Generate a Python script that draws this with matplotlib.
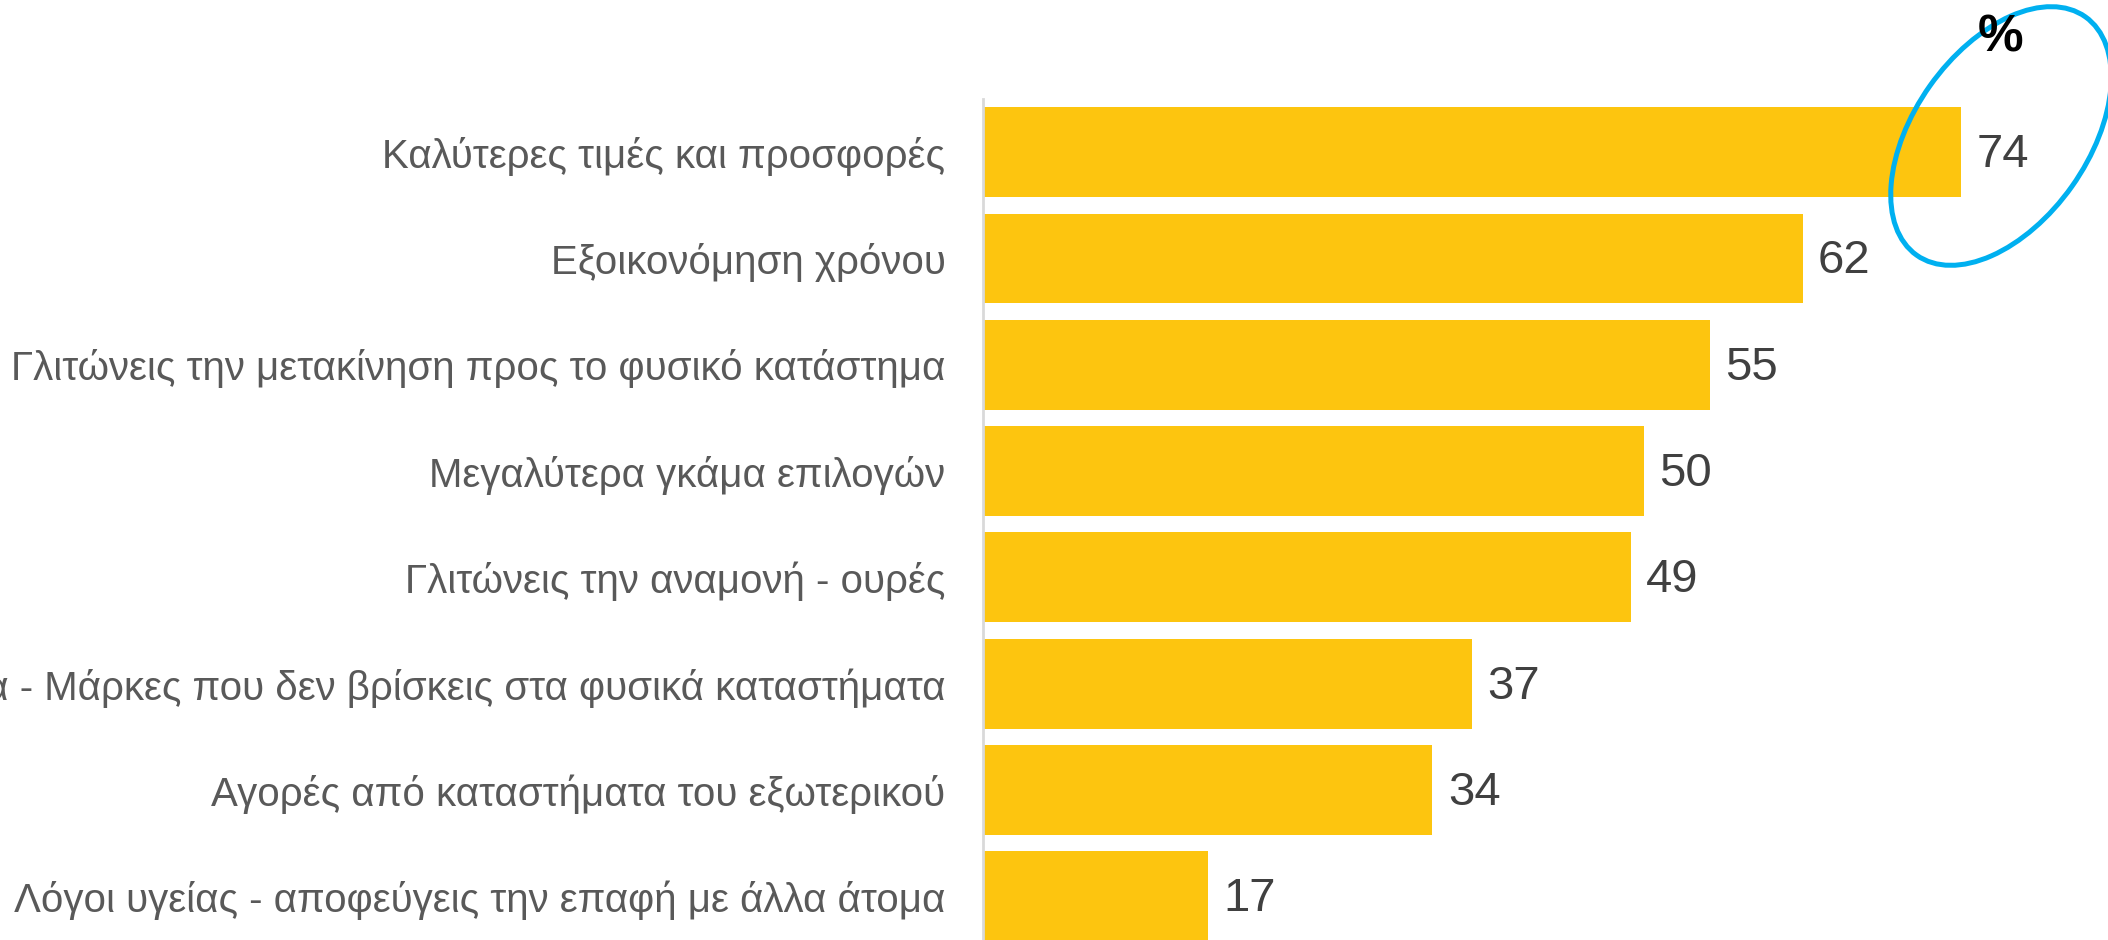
import matplotlib.pyplot as plt
from matplotlib.patches import Ellipse

labels = [
    "Καλύτερες τιμές και προσφορές",
    "Εξοικονόμηση χρόνου",
    "Γλιτώνεις την μετακίνηση προς το φυσικό κατάστημα",
    "Μεγαλύτερα γκάμα επιλογών",
    "Γλιτώνεις την αναμονή - ουρές",
    "Προϊόντα - Μάρκες που δεν βρίσκεις στα φυσικά καταστήματα",
    "Αγορές από καταστήματα του εξωτερικού",
    "Λόγοι υγείας - αποφεύγεις την επαφή με άλλα άτομα",
]
values = [74, 62, 55, 50, 49, 37, 34, 17]

W, H = 2108, 940
fig = plt.figure(figsize=(W / 100, H / 100), dpi=100)

# bar area: left axis line at x=983px, top at y=99px
ax = fig.add_axes([983 / W, 0, 1 - 983 / W, 1 - 99 / H])
pos = list(range(len(labels)))
ax.barh(pos, values, height=0.846, color="#FDC50F")
ax.set_xlim(0, 1125 / 13.22)
ax.set_ylim(7.41, -0.5)

for s in ["top", "right", "bottom"]:
    ax.spines[s].set_visible(False)
ax.spines["left"].set_color("#D9D9D9")
ax.spines["left"].set_linewidth(2)
ax.set_xticks([])
ax.set_yticks(pos)
ax.set_yticklabels(labels, fontsize=29, color="#595959", family=["Liberation Sans", "DejaVu Sans"])
ax.tick_params(axis="y", length=0, pad=27)

for p, v in zip(pos, values):
    ax.annotate(str(v), (v, p), xytext=(11, -2), textcoords="offset points",
                va="center", ha="left", fontsize=34, color="#404040",
                family=["Liberation Sans", "DejaVu Sans"])

# overlay in pixel coordinates for the % sign and the highlight ellipse
ov = fig.add_axes([0, 0, 1, 1])
ov.set_xlim(0, W)
ov.set_ylim(H, 0)
ov.axis("off")
ov.text(2001, 38, "%", fontsize=37, fontweight="bold", color="black",
        ha="center", va="center", family=["Liberation Sans", "DejaVu Sans"])
ov.add_patch(Ellipse((2001, 136), 292, 174, angle=-54.7, fill=False,
                     edgecolor="#00B0F0", linewidth=3.6))

fig.savefig("out.png", dpi=100)
